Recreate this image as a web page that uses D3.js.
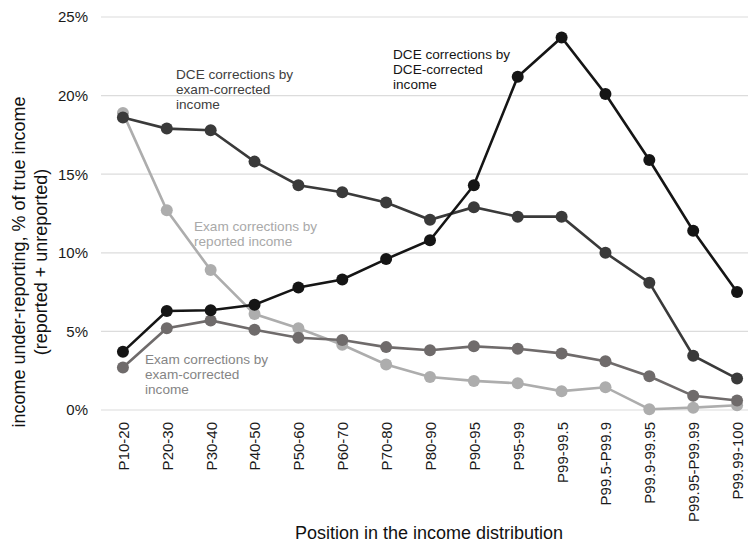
<!DOCTYPE html>
<html>
<head>
<meta charset="utf-8">
<script src="https://cdn.jsdelivr.net/npm/d3@7"></script>
<style>
  body { margin: 0; background: #fff; }
  text { font-family: "Liberation Sans", Arial, sans-serif; }
</style>
</head>
<body>
<svg id="chart" width="748" height="550"></svg>
<script>
// categories and values (percent)
const groups = ["P10-20", "P20-30", "P30-40", "P40-50", "P50-60", "P60-70", "P70-80", "P80-90",
  "P90-95", "P95-99", "P99-99.5", "P99.5-P99.9", "P99.9-99.95", "P99.95-P99.99", "P99.99-100"];

const examByReported = [18.9, 12.7, 8.9, 6.1, 5.2, 4.15, 2.9, 2.1, 1.85, 1.7, 1.2, 1.45, 0.05, 0.15, 0.3];
const examByExam = [2.7, 5.2, 5.7, 5.1, 4.6, 4.45, 4.0, 3.8, 4.05, 3.9, 3.6, 3.1, 2.15, 0.9, 0.6];
const dceByExam = [18.6, 17.9, 17.8, 15.8, 14.3, 13.85, 13.2, 12.1, 12.9, 12.3, 12.3, 10.0, 8.1, 3.45, 2.0];
const dceByDce = [3.7, 6.3, 6.35, 6.7, 7.8, 8.3, 9.6, 10.8, 14.3, 21.2, 23.7, 20.1, 15.9, 11.4, 7.5];

const yTicks = [0, 5, 10, 15, 20, 25];

const series = [
  { name: "examByReported", values: examByReported, color: "#adadad",
    label: ["Exam corrections by", "reported income"], lx: 194, ly: 231, text: "#a9a9a9" },
  { name: "examByExam", values: examByExam, color: "#6f6b6b",
    label: ["Exam corrections by", "exam-corrected", "income"], lx: 145, ly: 364, text: "#858585" },
  { name: "dceByExam", values: dceByExam, color: "#3a3a3a",
    label: ["DCE corrections by", "exam-corrected", "income"], lx: 176, ly: 78.5, text: "#404040" },
  { name: "dceByDce", values: dceByDce, color: "#151515",
    label: ["DCE corrections by", "DCE-corrected", "income"], lx: 393, ly: 58.5, text: "#151515" }
];

const svg = d3.select("#chart");

const x = d3.scalePoint().domain(groups).range([101, 759]).padding(0.5);
const y = d3.scaleLinear().domain([0, 25]).range([410, 17]);

// gridlines
svg.append("g")
  .selectAll("line")
  .data(yTicks)
  .join("line")
  .attr("x1", 101).attr("x2", 748)
  .attr("y1", d => y(d)).attr("y2", d => y(d))
  .attr("stroke", "#dcdcdc").attr("stroke-width", 1.2);

// y axis labels
const yAxis = svg.append("g")
  .attr("transform", "translate(88,0)")
  .call(d3.axisLeft(y).tickValues(yTicks).tickFormat(d => d + "%").tickSize(0).tickPadding(0));
yAxis.select(".domain").remove();
yAxis.selectAll("text").attr("font-size", 15).attr("fill", "#1a1a1a")
  .style("font-family", "'Liberation Sans', Arial, sans-serif");

// x axis labels
const xAxis = svg.append("g")
  .attr("transform", "translate(0,422)")
  .call(d3.axisBottom(x).tickSize(0).tickPadding(0));
xAxis.select(".domain").remove();
xAxis.selectAll("text")
  .attr("font-size", 15).attr("fill", "#1a1a1a")
  .style("font-family", "'Liberation Sans', Arial, sans-serif")
  .attr("transform", "rotate(-90)")
  .attr("text-anchor", "end")
  .attr("x", 0).attr("y", 0).attr("dy", "0.35em")
  .attr("dx", 0);
xAxis.selectAll(".tick text").attr("dy", "0.36em");

// lines and points
const line = d3.line().x((d, i) => x(groups[i])).y(d => y(d));

series.forEach(s => {
  const g = svg.append("g");
  g.append("path")
    .attr("d", line(s.values))
    .attr("fill", "none")
    .attr("stroke", s.color)
    .attr("stroke-width", 2.6);
  g.selectAll("circle")
    .data(s.values)
    .join("circle")
    .attr("cx", (d, i) => x(groups[i]))
    .attr("cy", d => y(d))
    .attr("r", 6)
    .attr("fill", s.color);
});

// series labels
series.forEach(s => {
  const t = svg.append("text")
    .attr("x", s.lx).attr("y", s.ly)
    .attr("font-size", 13.6)
    .attr("fill", s.text);
  s.label.forEach((l, i) => {
    t.append("tspan").attr("x", s.lx).attr("dy", i === 0 ? 0 : 15).text(l);
  });
});

// axis titles
svg.append("text")
  .attr("transform", "translate(25,262) rotate(-90)")
  .attr("text-anchor", "middle")
  .attr("font-size", 18)
  .attr("fill", "#111")
  .text("income under-reporting, % of true income");
svg.append("text")
  .attr("transform", "translate(47,262) rotate(-90)")
  .attr("text-anchor", "middle")
  .attr("font-size", 18)
  .attr("fill", "#111")
  .text("(reported + unreported)");

svg.append("text")
  .attr("x", 429).attr("y", 539)
  .attr("text-anchor", "middle")
  .attr("font-size", 18)
  .attr("fill", "#111")
  .text("Position in the income distribution");
</script>
</body>
</html>
